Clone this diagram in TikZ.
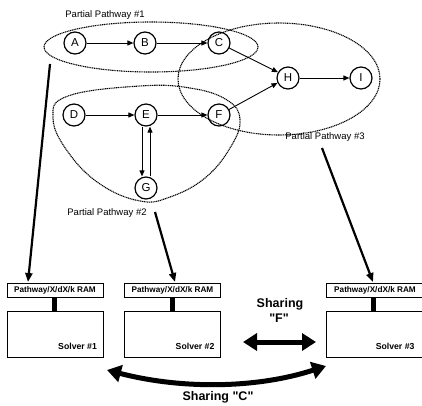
\documentclass[tikz,border=0pt]{standalone}
\usepackage{fontspec}
\setmainfont{Liberation Sans}[Ligatures=TeXOff]
\usetikzlibrary{arrows.meta}
\begin{document}
\begin{tikzpicture}[x=1pt,y=-1pt,
 vert/.style={circle,draw,line width=1.2pt,minimum size=22pt,inner sep=0pt,font=\fontsize{11.5}{12}\selectfont},
 edge/.style={line width=0.9pt,-{Triangle[length=6pt,width=5pt]}},
 grp/.style={line width=1.1pt,dash pattern=on 1.1pt off 0.7pt},
 lbl/.style={font=\fontsize{9.5}{11}\selectfont},
 feed/.style={line width=2.2pt,-{Triangle[length=9pt,width=7pt]}},
 ram/.style={draw,line width=0.9pt,minimum width=96pt,minimum height=14pt,inner sep=0pt,font=\bfseries\fontsize{8.2}{9}\selectfont},
 solver/.style={draw,line width=0.9pt,minimum width=96pt,minimum height=46pt,inner sep=0pt},
 slab/.style={font=\bfseries\fontsize{8.7}{10}\selectfont,anchor=base east},
 bar/.style={line width=5pt},
 share/.style={line width=5pt,{Triangle[length=14pt,width=17pt]}-{Triangle[length=14pt,width=17pt]}},
 sharetxt/.style={font=\bfseries\fontsize{12.5}{14}\selectfont}
]
\clip (0,0) rectangle (422,405);

% groups
\draw[grp] (151,47) ellipse [x radius=107pt, y radius=25pt];
\draw[grp] (279,79) ellipse [x radius=101pt, y radius=56pt];
\draw[grp] plot[smooth cycle,tension=0.7] coordinates {(140,86) (190,88) (227,100) (240,120) (230,148) (205,178) (170,197) (140,201) (100,184) (68,152) (53,118) (68,96)};

\node[lbl] (pp1) at (105,15) {Partial Pathway \#1};
\node[lbl] (pp2) at (107,213) {Partial Pathway \#2};
\node[lbl] (pp3) at (325,137) {Partial Pathway \#3};

% vertices
\node[vert] (A) at (75,43) {A};
\node[vert] (B) at (145,43) {B};
\node[vert] (C) at (219,43) {C};
\node[vert] (H) at (288,78) {H};
\node[vert] (I) at (361,78) {I};
\node[vert] (D) at (74,115) {D};
\node[vert] (E) at (146,115) {E};
\node[vert] (F) at (219,115) {F};
\node[vert] (G) at (146,188) {G};

\draw[edge] (A) -- (B);
\draw[edge] (B) -- (C);
\draw[edge] (C) -- (H.150);
\draw[edge] (F) -- (H.205);
\draw[edge] (H) -- (I);
\draw[edge] (D) -- (E);
\draw[edge] (E) -- (F);
\draw[edge] ([xshift=-4pt]E.south) -- ([xshift=-4pt]G.north);
\draw[edge] ([xshift=4pt]G.north) -- ([xshift=4pt]E.south);

% solvers
\node[ram] (ram1) at (55,290) {Pathway/X/dX/k RAM};
\node[ram] (ram2) at (172.5,290) {Pathway/X/dX/k RAM};
\node[ram,minimum width=98pt] (ram3) at (375,290) {Pathway/X/dX/k RAM};
\node[solver] (sol1) at (55,334) {};
\node[solver] (sol2) at (172.5,334) {};
\node[solver,minimum width=98pt] (sol3) at (375,334) {};
\node[slab] (sl1) at ([xshift=-3pt,yshift=8pt]sol1.south east) {Solver \#1};
\node[slab] (sl2) at ([xshift=-3pt,yshift=8pt]sol2.south east) {Solver \#2};
\node[slab] (sl3) at (418,349) {Solver \#3};

\draw[bar] ([xshift=-1pt]ram1.south) -- ([xshift=-1pt]sol1.north);
\draw[bar] ([xshift=-0.5pt]ram2.south) -- ([xshift=-0.5pt]sol2.north);
\draw[bar] ([xshift=-2pt]ram3.south) -- ([xshift=-2pt]sol3.north);

% feeds
\coordinate (s1) at (50,64);
\coordinate (t1) at (28,282);
\coordinate (s2) at (155,212);
\coordinate (t2) at (175,282);
\coordinate (s3) at (322,148);
\coordinate (t3) at (373,282);
\draw[feed] (s1) -- (t1);
\draw[feed] (s2) -- (t2);
\draw[feed] (s3) -- (t3);

% sharing
\node[sharetxt] (shf1) at (280,304) {Sharing};
\node[sharetxt] (shf2) at (279,318) {"F"};
\coordinate (f1) at (243,342);
\coordinate (f2) at (316,342);
\draw[share] (f1) -- (f2);
\coordinate (c1) at (107,370);
\coordinate (c2) at (326,366);
\draw[share] (c1) .. controls (180,389) and (255,389) .. (c2);
\node[sharetxt] (shc) at (218,397) {Sharing "C"};
\end{tikzpicture}
\end{document}
